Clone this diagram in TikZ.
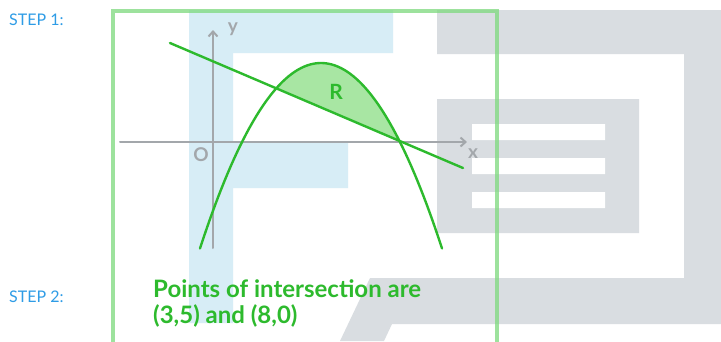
\documentclass[tikz,border=0pt]{standalone}
\usepackage{fontspec}
\setmainfont{Lato}
\usetikzlibrary{arrows.meta}
\definecolor{stepblue}{HTML}{2E9CE6}
\definecolor{curvegreen}{HTML}{2DBA2D}
\definecolor{fillgreen}{HTML}{A8E6A3}
\definecolor{axisgrey}{HTML}{A3A7AB}
\definecolor{logoblue}{HTML}{D7EDF6}
\definecolor{logogrey}{HTML}{D9DDE1}
\definecolor{framegreen}{HTML}{7DD97D}

\begin{document}
\begin{tikzpicture}[x=1pt,y=-1pt,>={Straight Barb[length=5pt,width=9pt]}]
\tikzset{steplabel/.style={text=stepblue,font=\fontsize{16}{16}\selectfont,anchor=west,inner sep=0pt},
  axislabel/.style={text=axisgrey,font=\bfseries\fontsize{19}{19}\selectfont,inner sep=0pt},
  axisline/.style={axisgrey,line width=2pt,line cap=round},
  curve/.style={curvegreen,line width=2.4pt,line cap=round},
  hand/.style={text=curvegreen,font=\bfseries\fontsize{24}{26}\selectfont,anchor=north west,inner sep=0pt,align=left}}
\useasboundingbox (0,0) rectangle (721,341);
\fill[white] (0,0) rectangle (721,341);
% logo in the background
\fill[logoblue] (189,10) rectangle (393,53) (189,53) rectangle (233,323) (233,141) rectangle (348,188);
\fill[logogrey] (437,10) rectangle (721,54) (684,54) rectangle (721,278) (437,99) rectangle (639,233);
\fill[logogrey] (370,278) -- (721,278) -- (721,324) -- (392,324) -- (384,341) -- (340,341) -- cycle;
\fill[white] (472,124) rectangle (605,140) (472,158) rectangle (605,174) (472,192) rectangle (605,208);
% axes
\draw[axisline,->] (120,142) -- (467,142);
\draw[axisline,->] (213,248) -- (213,30);
\node[axislabel] (ylab) at (233,29) {y};
\node[axislabel] (xlab) at (473,154) {x};
\node[axislabel] (orig) at (201,155) {O};
% region R between the curves
\fill[fillgreen] plot[domain=276.3:399.9,samples=60] (\x,{63+0.01266*(\x-321)^2}) -- cycle;
\draw[curve] plot[domain=200:442,samples=80] (\x,{63+0.01266*(\x-321)^2});
\draw[curve] (170,43) -- (463,168);
\node[text=curvegreen,font=\bfseries\fontsize{21}{21}\selectfont] (rlab) at (336,92) {R};
% frame
\draw[framegreen,opacity=0.75,line width=4pt] (113,350) -- (113,11) -- (497,11) -- (497,350);
% steps
\node[steplabel] (step1) at (9,20) {STEP 1:};
\node[steplabel] (step2) at (9,297) {STEP 2:};
\node[hand] (points) at (153,279) {Points of intersection are\\(3,5) and (8,0)};
\end{tikzpicture}
\end{document}
